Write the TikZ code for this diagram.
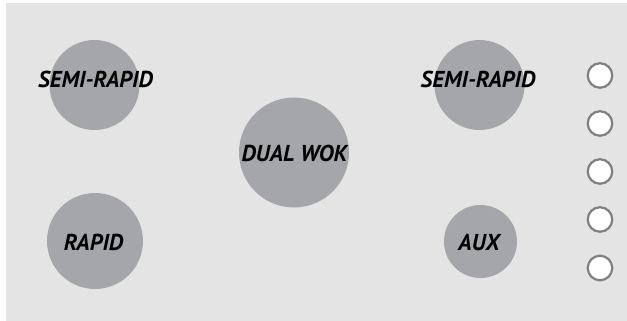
\documentclass[tikz,border=0pt]{standalone}
\usepackage{fontspec}
\setmainfont{PT Sans}
\definecolor{panel}{HTML}{E3E4E3}
\definecolor{burner}{HTML}{A5A6A9}
\definecolor{knobline}{HTML}{808080}
\begin{document}
\begin{tikzpicture}[x=1pt,y=-1pt,
  burnerstyle/.style={circle,fill=burner,draw=none,inner sep=0pt,minimum size=#1},
  labelstyle/.style={font=\fontsize{23}{26}\selectfont\bfseries\itshape,text=black,inner sep=0pt,anchor=base},
  knob/.style={circle,draw=knobline,line width=2.2pt,fill=white,inner sep=0pt,minimum size=24.5pt}]
\useasboundingbox (0,0) rectangle (627,321);
\fill[white] (0,0) rectangle (627,321);
\fill[panel] (6,3) rectangle (627,321);
\node[burnerstyle=90pt] (sr1) at (94.5,85) {};
\node[burnerstyle=90pt] (sr2) at (479.5,85) {};
\node[burnerstyle=96pt] (rap) at (95,241) {};
\node[burnerstyle=73pt] (aux) at (480.5,241.5) {};
\node[burnerstyle=110pt] (wok) at (294,152.5) {};
\node[labelstyle] (tsr1) at (95.5,88) {SEMI-RAPID};
\node[labelstyle] (tsr2) at (478,88) {SEMI-RAPID};
\node[labelstyle] (trap) at (93.5,250) {RAPID};
\node[labelstyle] (taux) at (479,250) {AUX};
\node[labelstyle] (twok) at (294.5,161.5) {DUAL WOK};
\foreach \i/\y in {1/75.5,2/123.5,3/171.5,4/219.5,5/268} {
  \node[knob] (k\i) at (600,\y) {};
}
\end{tikzpicture}
\end{document}
